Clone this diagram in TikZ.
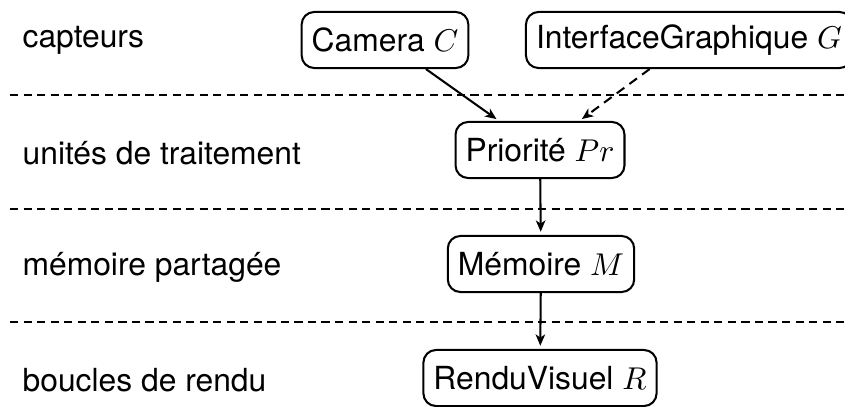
\documentclass[tikz,border=0pt]{standalone}
\usepackage{fontspec}
\setmainfont{TeX Gyre Heros}
\usetikzlibrary{arrows.meta}
\begin{document}
\begin{tikzpicture}[x=0.3175pt,y=-0.3175pt,
  box/.style={draw,rounded corners=4pt,line width=0.65pt,minimum height=17.8pt,inner xsep=3.2pt,font=\fontsize{10.1}{12}\selectfont},
  lab/.style={anchor=west,inner sep=0pt,font=\fontsize{10.1}{12}\selectfont},
  sep/.style={line width=0.65pt,dash pattern=on 2.6pt off 1.7pt},
  arr/.style={line width=0.65pt,-{Stealth[length=3.6pt,width=3pt,inset=1pt]},shorten >=1pt},
  darr/.style={arr,dash pattern=on 3pt off 2pt}]
\useasboundingbox (0,0) rectangle (845,407);
% layer labels
\node[lab] (l1) at (22,40) {capteurs};
\node[lab] (l2) at (22,153) {unités de traitement};
\node[lab] (l3) at (22,267) {mémoire partagée};
\node[lab] (l4) at (22,380) {boucles de rendu};
% separators
\coordinate (s1a) at (10,95);  \coordinate (s1b) at (845,95);
\coordinate (s2a) at (10,209); \coordinate (s2b) at (845,209);
\coordinate (s3a) at (10,322); \coordinate (s3b) at (845,322);
\draw[sep] (s1a) -- (s1b);
\draw[sep] (s2a) -- (s2b);
\draw[sep] (s3a) -- (s3b);
% nodes
\node[box] (C) at (385,40) {Camera $C$};
\node[box] (G) at (689,40) {InterfaceGraphique $G$};
\node[box] (P) at (540,150) {Priorité $Pr$};
\node[box] (M) at (541,264) {Mémoire $M$};
\node[box] (R) at (540,378) {RenduVisuel $R$};
% connectors
\draw[arr] (C) -- (P);
\draw[darr] (G) -- (P);
\draw[arr] (P) -- (M);
\draw[arr] (M) -- (R);
\end{tikzpicture}
\end{document}
